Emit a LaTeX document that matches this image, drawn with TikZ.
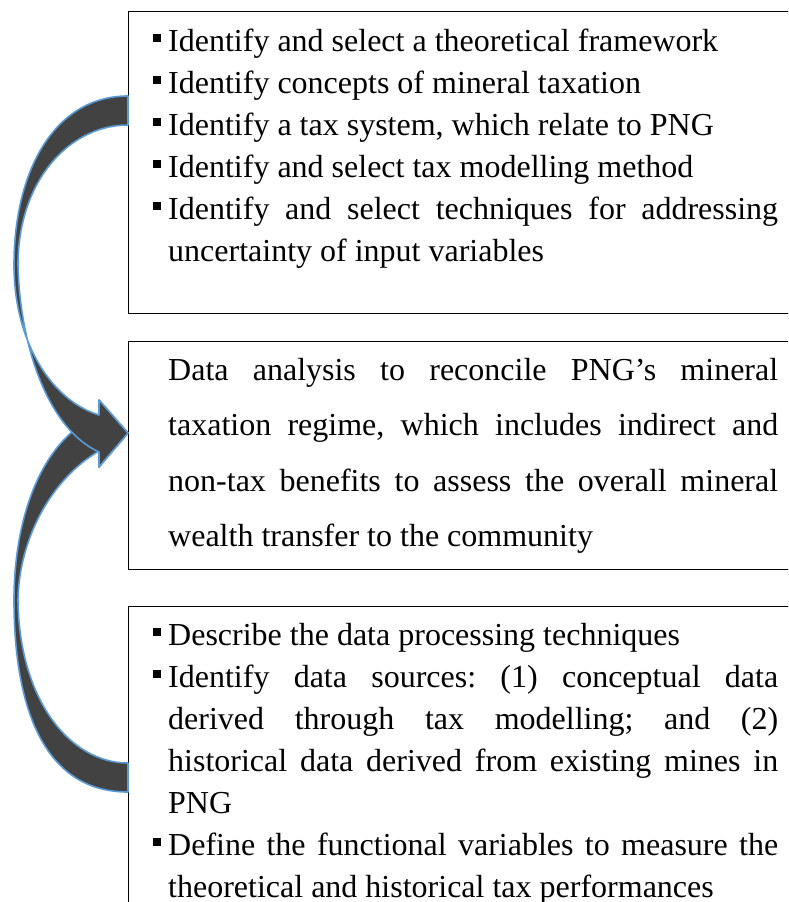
\documentclass[tikz,border=0pt]{standalone}
\usepackage{fontspec}
\setmainfont{Liberation Serif}
\definecolor{arrowfill}{RGB}{66,66,66}
\definecolor{arrowline}{RGB}{91,155,213}
\newcommand{\sqbul}{\leavevmode\llap{\raisebox{9pt}{\rule{8pt}{8pt}}\hspace{7pt}}}
\tikzset{
  boxframe/.style={draw=black, line width=1.3pt, inner sep=0pt, anchor=north west, minimum width=720pt},
  bodytext/.style={anchor=base west, inner sep=0pt},
  curvearrow/.style={fill=arrowfill, draw=arrowline, line width=1.6pt, line join=round},
}
\begin{document}
\frenchspacing
\begin{tikzpicture}[x=1pt,y=-1pt]
\clip (0,0) rectangle (788,902);
\fill[white] (0,0) rectangle (788,902);
% boxes
\node[boxframe, minimum height=302pt] (b1) at (128,11) {};
\node[boxframe, minimum height=228pt] (b2) at (128,341) {};
\node[boxframe, minimum height=320pt] (b3) at (128,606) {};
% texts
\node[bodytext] (t1) at (168,51) {\begin{minipage}[t]{610pt}\fontsize{32}{42}\selectfont
\parindent=0pt\tolerance=10000\hyphenpenalty=10000\frenchspacing
\sqbul Identify and select a theoretical framework\par
\sqbul Identify concepts of mineral taxation\par
\sqbul Identify a tax system, which relate to PNG\par
\sqbul Identify and select tax modelling method\par
\sqbul Identify and select techniques for addressing\linebreak uncertainty of input variables\par
\end{minipage}};
\node[bodytext] (t2) at (168,380) {\begin{minipage}[t]{610pt}\fontsize{32}{55.5}\selectfont
\parindent=0pt\tolerance=10000\hyphenpenalty=10000\frenchspacing
Data analysis to reconcile PNG’s mineral\linebreak taxation regime, which includes indirect and\linebreak non-tax benefits to assess the overall mineral\linebreak wealth transfer to the community\par
\end{minipage}};
\node[bodytext] (t3) at (168,645) {\begin{minipage}[t]{610pt}\fontsize{32}{42}\selectfont
\parindent=0pt\tolerance=10000\hyphenpenalty=10000\frenchspacing
\sqbul Describe the data processing techniques\par
\sqbul Identify data sources: (1) conceptual data\linebreak derived through tax modelling; and (2)\linebreak historical data derived from existing mines in\linebreak PNG\par
\sqbul Define the functional variables to measure the\linebreak theoretical and historical tax performances\par
\end{minipage}};
% lower curved arrow (from box 3 up to box 2)
\draw[curvearrow] (128,792) .. controls (40,792) and (14,700) .. (14,600)
  .. controls (14,520) and (40,440) .. (99,415)
  -- (99,400) -- (128,433) -- (99,467) -- (99,451)
  .. controls (50,480) and (19,540) .. (18,600)
  .. controls (19,700) and (70,763) .. (128,763) -- cycle;
% upper curved arrow (from box 1 down to box 2)
\draw[curvearrow] (128,96) .. controls (55,96) and (14,170) .. (14,265)
  .. controls (14,340) and (50,400) .. (99,415)
  -- (99,400) -- (128,433) -- (99,467) -- (99,452)
  .. controls (50,430) and (20,350) .. (18,265)
  .. controls (18,180) and (70,125) .. (128,125) -- cycle;
\end{tikzpicture}
\end{document}
